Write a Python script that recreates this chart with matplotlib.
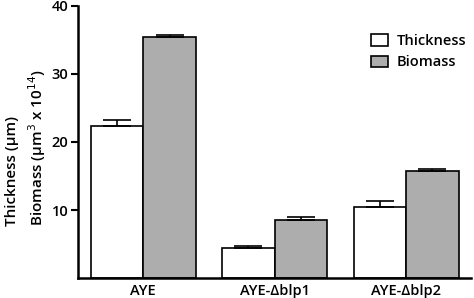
import matplotlib
matplotlib.use("Agg")
import matplotlib.pyplot as plt
import numpy as np

plt.rcParams["font.family"] = ["Open Sans", "DejaVu Sans"]

strains = ["AYE", "AYE-\u0394blp1", "AYE-\u0394blp2"]
thickness = [22.4, 4.4, 10.4]
thickness_err = [0.9, 0.3, 0.9]
biomass = [35.4, 8.6, 15.7]
biomass_err = [0.4, 0.4, 0.4]

fig = plt.figure(figsize=(4.74, 2.98), dpi=100)
ax = fig.add_axes([0.165, 0.067, 0.829, 0.913])

x = np.arange(len(strains))
width = 0.4
err_kw = dict(ecolor="black", elinewidth=1.2, capsize=10, capthick=1.2)
ax.bar(x - width / 2, thickness, width, color="white", edgecolor="black", linewidth=1.2,
       yerr=[np.zeros(3), thickness_err], error_kw=err_kw, label="Thickness")
ax.bar(x + width / 2, biomass, width, color="#adadad", edgecolor="black", linewidth=1.2,
       yerr=[np.zeros(3), biomass_err], error_kw=err_kw, label="Biomass")

ax.set_xlim(-0.495, 2.495)
ax.set_ylim(0, 40)
ax.set_yticks([10, 20, 30, 40])
ax.set_xticks(x)
ax.set_xticklabels(strains, fontsize=10.5, fontweight="semibold")
ax.tick_params(axis="x", length=0, pad=4)
ax.tick_params(axis="y", length=5, width=1.5, labelsize=10.5, pad=2)
for lab in ax.get_yticklabels():
    lab.set_fontweight("semibold")

for side in ["top", "right"]:
    ax.spines[side].set_visible(False)
ax.spines["left"].set_linewidth(1.8)
ax.spines["bottom"].set_linewidth(1.8)

ax.set_ylabel("Thickness (\u00b5m)\nBiomass (\u00b5m$^3$ x 10$^{14}$)", fontsize=11,
              fontweight="semibold", labelpad=3, y=0.48, multialignment="left",
              linespacing=1.4)

leg = ax.legend(loc="upper right", bbox_to_anchor=(1.02, 0.945), frameon=False, fontsize=10.5,
                handlelength=1.1, handleheight=0.8, handletextpad=0.6, labelspacing=0.5)
for t in leg.get_texts():
    t.set_fontweight("semibold")

fig.savefig("out.png", dpi=100)
